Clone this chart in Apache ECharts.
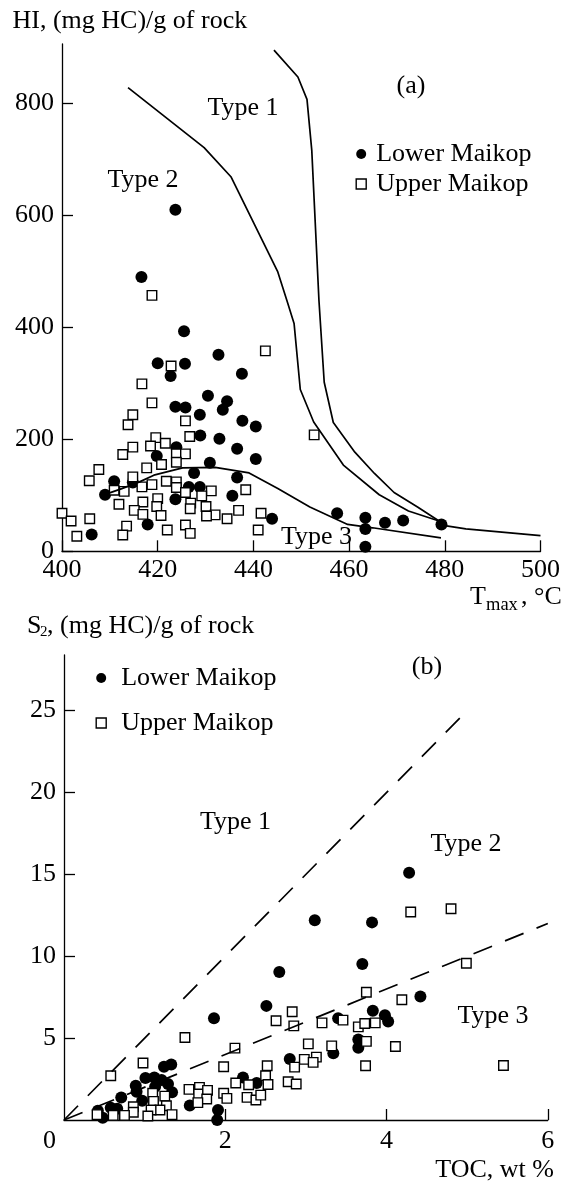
<!DOCTYPE html>
<html>
<head>
<meta charset="utf-8">
<script src="https://cdn.jsdelivr.net/npm/echarts@6/dist/echarts.min.js"></script>
<style>
  html, body { margin: 0; padding: 0; background: #fff; }
  #chart { width: 564px; height: 1189px; }
</style>
</head>
<body>
<div id="chart"></div>
<script>
// panel (a): HI vs Tmax
const lowerTmax = [416.6, 423.7, 425.5, 420.0, 425.7, 432.7, 422.7, 437.6, 430.5, 423.7,
  425.8, 434.5, 433.6, 428.8, 437.7, 440.5, 428.9, 432.9, 423.9, 436.6,
  419.8, 440.5, 430.9, 427.6, 436.6, 410.9, 414.8, 409.0, 426.5, 428.8,
  435.6, 423.7, 417.9, 406.2, 443.9, 457.5, 463.4, 463.4, 463.4, 467.5,
  471.3, 479.3];
const lowerHI = [490, 610, 393, 336, 335, 351, 313, 317, 278, 258,
  257, 268, 253, 244, 233, 223, 207, 201, 186, 183,
  170, 165, 158, 140, 132, 125, 123, 101, 115, 115,
  99, 93, 48, 30, 58, 68, 60, 40, 8, 51,
  55, 48];
const upperTmax = [418.8, 442.5, 422.8, 416.7, 418.8, 414.8, 413.8, 425.8, 452.7, 426.7,
  419.6, 421.6, 418.5, 414.8, 412.7, 423.9, 425.8, 420.8, 423.9, 417.7,
  407.7, 405.7, 414.8, 416.7, 418.8, 421.8, 423.9, 423.9, 410.9, 413.0,
  425.8, 431.2, 429.2, 438.4, 411.9, 416.9, 420.0, 426.9, 419.8, 426.8,
  430.1, 415.1, 416.9, 420.7, 432.0, 434.5, 430.2, 436.9, 441.6, 400.0,
  401.9, 405.8, 403.1, 413.5, 412.7, 422.0, 425.8, 426.8, 441.0];
const upperHI = [457, 358, 331, 299, 265, 244, 226, 233, 208, 205,
  203, 193, 188, 186, 173, 174, 174, 155, 159, 149,
  146, 126, 133, 115, 119, 125, 124, 114, 109, 107,
  105, 108, 99, 110, 84, 88, 94, 86, 80, 76,
  80, 73, 66, 64, 65, 58, 63, 73, 68, 68,
  54, 58, 27, 45, 29, 38, 47, 32, 38];

// boundary curves of panel (a)
const type1RightTmax = [444.3, 449.3, 451.2, 452.2, 453.7, 454.8, 456.7, 461.2, 465.3, 469.4, 474.3, 478.8, 480, 484.4, 500];
const type1RightHI = [895, 847, 807, 716, 448, 302, 230, 177, 139, 105, 79, 54, 46, 40, 28];
const type1LeftTmax = [413.8, 429.7, 435.3, 445.1, 447.0, 448.5, 449.8, 452.6, 458.8, 466.3, 472.4, 478.8, 480];
const type1LeftHI = [828, 721, 669, 499, 448, 407, 289, 231, 154, 101, 72, 54, 46];
const type3Tmax = [409.5, 412.5, 416.2, 419.2, 425.2, 432.0, 439.1, 445.1, 451.8, 459.7, 464.9, 479.2];
const type3HI = [103, 112, 124, 136, 149, 150, 140, 112, 79, 48, 42, 24];

// panel (b): S2 vs TOC
const lowerTOC = [4.28, 3.11, 3.82, 3.70, 2.67, 2.51, 1.86, 3.40, 3.83, 3.98,
  4.02, 4.42, 3.65, 3.65, 3.34, 2.80, 2.22, 2.39, 1.56, 1.91,
  1.90, 1.24, 1.33, 1.01, 1.12, 0.89, 0.90, 1.13, 1.21, 1.29,
  1.34, 0.71, 0.97, 0.58, 0.66, 0.42, 0.48];
const lowerS2 = [15.1, 12.2, 12.07, 9.53, 9.04, 6.97, 6.22, 6.22, 6.67, 6.40,
  6.02, 7.54, 4.92, 4.41, 4.07, 3.72, 2.60, 2.26, 0.89, 0.61,
  0.0, 3.25, 3.39, 2.56, 2.60, 2.09, 1.73, 2.03, 2.44, 2.20,
  1.69, 1.38, 1.18, 0.75, 0.69, 0.57, 0.14];
const upperTOC = [4.80, 4.30, 4.99, 3.75, 4.19, 2.83, 2.63, 2.85, 3.20, 3.46,
  3.65, 3.73, 3.86, 1.50, 2.12, 3.03, 3.32, 3.75, 4.11, 5.45,
  3.74, 3.13, 2.98, 3.09, 2.86, 2.52, 1.98, 2.50, 2.78, 2.88,
  2.53, 2.13, 2.29, 2.27, 2.38, 2.44, 1.98, 2.02, 0.58, 0.98,
  1.55, 1.68, 1.67, 1.78, 1.77, 1.66, 1.10, 1.25, 1.11, 1.27,
  1.19, 1.08, 0.86, 0.86, 0.75, 1.04, 1.34, 0.61, 0.41];
const upperS2 = [12.9, 12.7, 9.57, 7.80, 7.34, 6.61, 6.06, 5.75, 5.93, 6.10,
  5.69, 5.89, 5.93, 5.04, 4.39, 4.65, 4.53, 4.80, 4.49, 3.33,
  3.31, 3.84, 3.70, 3.52, 3.23, 3.31, 3.25, 2.70, 2.34, 2.20,
  2.17, 2.26, 2.15, 1.38, 1.22, 1.52, 1.63, 1.32, 2.70, 3.48,
  1.87, 1.99, 1.59, 1.81, 1.28, 1.06, 1.63, 1.46, 1.14, 0.87,
  0.61, 0.61, 0.81, 0.47, 0.28, 0.24, 0.33, 0.28, 0.33];

// dashed type boundaries of panel (b)
const type1LineTOC = [0, 5];
const type1LineS2 = [0, 25];
const type2LineTOC = [0, 6];
const type2LineS2 = [0, 12];

// tick labels
const hiTicks = [0, 200, 400, 600, 800];
const s2Ticks = [5, 10, 15, 20, 25];
const tocTicks = [2, 4, 6];

const FONT = '"Liberation Serif", "Times New Roman", serif';
const pairs = (xs, ys) => xs.map((x, i) => [x, ys[i]]);

const chart = echarts.init(document.getElementById('chart'), null, { renderer: 'canvas' });

const axisCommon = {
  type: 'value',
  splitLine: { show: false },
  axisLine: { lineStyle: { color: '#000', width: 1.3 } },
  axisTick: { inside: true, length: 11, lineStyle: { color: '#000', width: 1.3 } },
  axisLabel: { color: '#000', fontFamily: FONT, fontSize: 26 },
};

// opacity 1, scatter defaults to 0.8
const circleStyle = { color: '#000', opacity: 1 };
const squareStyle = { color: '#fff', borderColor: '#000', borderWidth: 1.4, opacity: 1 };
const curveStyle = { color: '#000', width: 1.7 };
const dashStyle = { color: '#000', width: 1.7, type: [20, 14] };

function txt(text, x, y, size, align) {
  return {
    type: 'text',
    silent: true,
    style: {
      text: text, x: x, y: y,
      font: size + 'px ' + FONT,
      fill: '#000',
      align: align || 'left',
      verticalAlign: 'middle',
    },
  };
}

const option = {
  animation: false,
  backgroundColor: '#fff',
  grid: [
    { left: 62, right: 23.5, top: 44, bottom: 637.7 },
    { left: 64, right: 16.2, top: 655, bottom: 69 },
  ],
  xAxis: [
    Object.assign({}, axisCommon, {
      gridIndex: 0, min: 400, max: 500, interval: 20,
      axisLabel: Object.assign({}, axisCommon.axisLabel, { margin: 6 }),
    }),
    Object.assign({}, axisCommon, {
      gridIndex: 1, min: 0, max: 6, interval: 2,
      axisTick: Object.assign({}, axisCommon.axisTick, { customValues: tocTicks }),
      axisLabel: Object.assign({}, axisCommon.axisLabel, { margin: 8, customValues: tocTicks }),
    }),
  ],
  yAxis: [
    Object.assign({}, axisCommon, {
      gridIndex: 0, min: 0, max: 906, interval: 200,
      axisTick: Object.assign({}, axisCommon.axisTick, { customValues: hiTicks }),
      axisLabel: Object.assign({}, axisCommon.axisLabel, { margin: 8, customValues: hiTicks }),
    }),
    Object.assign({}, axisCommon, {
      gridIndex: 1, min: 0, max: 28.4, interval: 5,
      axisTick: Object.assign({}, axisCommon.axisTick, { customValues: s2Ticks }),
      axisLabel: Object.assign({}, axisCommon.axisLabel, { margin: 8, customValues: s2Ticks }),
    }),
  ],
  legend: [
    {
      left: 355.5, top: 141, orient: 'vertical', padding: 0,
      itemWidth: 10, itemHeight: 10, itemGap: 4,
      selectedMode: false,
      textStyle: { fontFamily: FONT, fontSize: 26, color: '#000', padding: [0, 0, 0, 5] },
      data: [
        { name: 'Lower Maikop', icon: 'circle', itemStyle: circleStyle },
        { name: 'Upper Maikop', icon: 'rect', itemStyle: squareStyle },
      ],
    },
    {
      left: 95.5, top: 665, orient: 'vertical', padding: 0,
      itemWidth: 10, itemHeight: 10, itemGap: 19,
      selectedMode: false,
      textStyle: { fontFamily: FONT, fontSize: 26, color: '#000', padding: [0, 0, 0, 10] },
      data: [
        { name: 'Lower Maikop', icon: 'circle', itemStyle: circleStyle },
        { name: 'Upper Maikop', icon: 'rect', itemStyle: squareStyle },
      ],
    },
  ],
  graphic: [
    // panel (a) texts
    txt('HI, (mg HC)/g of rock', 12.5, 21.5, 26),
    txt('(a)', 411, 86, 26, 'center'),
    txt('Type 1', 243, 108.5, 26, 'center'),
    txt('Type 2', 143, 180, 26, 'center'),
    txt('Type 3', 316.5, 537, 26, 'center'),
    txt('T', 470, 597, 26),
    txt('max', 486, 605, 18.5),
    txt(', °C', 521, 597, 26),
    // panel (b) texts
    txt('S', 27, 626, 26),
    txt('2', 40, 632, 15),
    txt(', (mg HC)/g of rock', 47, 626, 26),
    txt('(b)', 427, 667, 26, 'center'),
    txt('Type 1', 235.5, 822, 26, 'center'),
    txt('Type 2', 466, 844, 26, 'center'),
    txt('Type 3', 493, 1016, 26, 'center'),
    txt('0', 49.5, 1141.5, 26, 'center'),
    txt('TOC, wt %', 554, 1170, 26, 'right'),
  ],
  series: [
    { type: 'line', xAxisIndex: 0, yAxisIndex: 0, silent: true, showSymbol: false,
      lineStyle: curveStyle, data: pairs(type1RightTmax, type1RightHI) },
    { type: 'line', xAxisIndex: 0, yAxisIndex: 0, silent: true, showSymbol: false,
      lineStyle: curveStyle, data: pairs(type1LeftTmax, type1LeftHI) },
    { type: 'line', xAxisIndex: 0, yAxisIndex: 0, silent: true, showSymbol: false,
      lineStyle: curveStyle, data: pairs(type3Tmax, type3HI) },
    { name: 'Lower Maikop', type: 'scatter', xAxisIndex: 0, yAxisIndex: 0, clip: false,
      symbol: 'circle', symbolSize: 12, itemStyle: circleStyle,
      data: pairs(lowerTmax, lowerHI) },
    { name: 'Upper Maikop', type: 'scatter', xAxisIndex: 0, yAxisIndex: 0, clip: false,
      symbol: 'rect', symbolSize: 9.5, itemStyle: squareStyle,
      data: pairs(upperTmax, upperHI) },

    { type: 'line', xAxisIndex: 1, yAxisIndex: 1, silent: true, showSymbol: false,
      lineStyle: dashStyle, data: pairs(type1LineTOC, type1LineS2) },
    { type: 'line', xAxisIndex: 1, yAxisIndex: 1, silent: true, showSymbol: false,
      lineStyle: dashStyle, data: pairs(type2LineTOC, type2LineS2) },
    { name: 'Lower Maikop', type: 'scatter', xAxisIndex: 1, yAxisIndex: 1, clip: false,
      symbol: 'circle', symbolSize: 12, itemStyle: circleStyle,
      data: pairs(lowerTOC, lowerS2) },
    { name: 'Upper Maikop', type: 'scatter', xAxisIndex: 1, yAxisIndex: 1, clip: false,
      symbol: 'rect', symbolSize: 9.5, itemStyle: squareStyle,
      data: pairs(upperTOC, upperS2) },
  ],
};

chart.setOption(option);
</script>
</body>
</html>
